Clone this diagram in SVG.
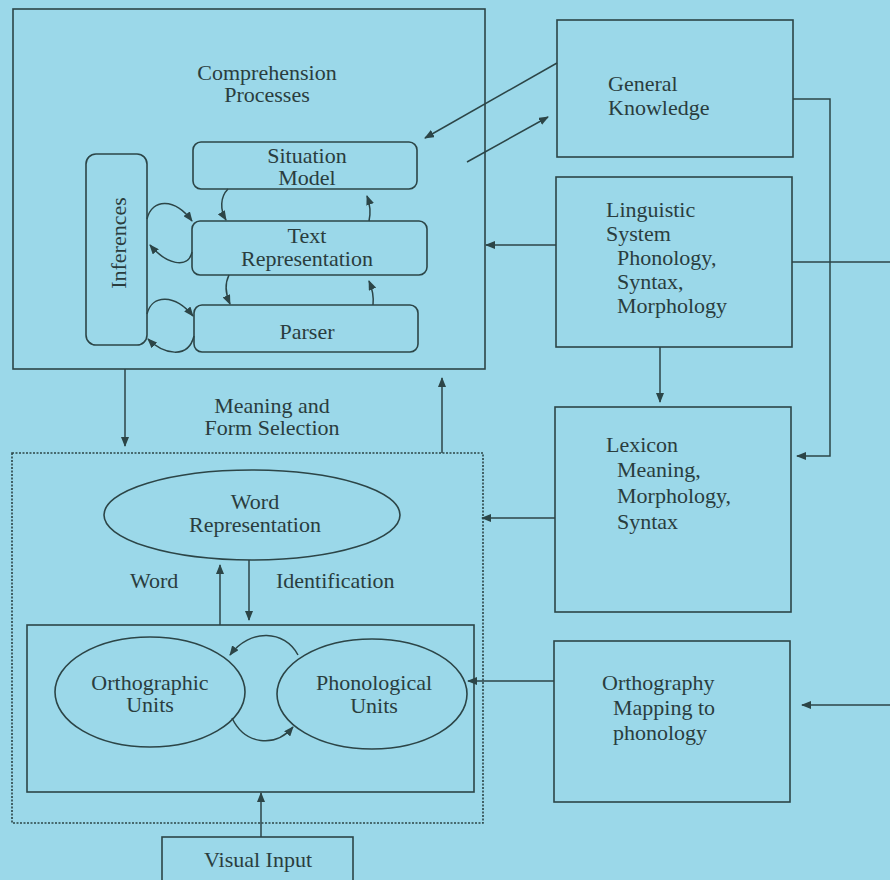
<svg xmlns="http://www.w3.org/2000/svg" width="890" height="880" viewBox="0 0 890 880">
<defs>
<marker id="ah" markerUnits="userSpaceOnUse" markerWidth="10" markerHeight="8" refX="9" refY="4" orient="auto">
<path d="M0,0 L10,4 L0,8 z" fill="#2c4547"/>
</marker>
</defs>
<style>
.box{fill:none;stroke:#2c4547;stroke-width:1.6}
.dot{fill:none;stroke:#2c4547;stroke-width:1.6;stroke-dasharray:2,1.5}
.ln{fill:none;stroke:#2c4547;stroke-width:1.5}
.arr{fill:none;stroke:#2c4547;stroke-width:1.5;marker-end:url(#ah)}
text{font-family:"Liberation Serif","Times New Roman",serif;font-size:22px;fill:#2a3d3e}
.c{text-anchor:middle}
</style>
<rect width="890" height="880" fill="#9bd8e9"/>

<g id="comprehension">
<rect class="box" x="13" y="9" width="472" height="360"/>
<text class="c" x="267" y="80">Comprehension</text>
<text class="c" x="267" y="102">Processes</text>
</g>
<g id="situation-model">
<rect class="box" x="193" y="142" width="224" height="47" rx="8"/>
<text class="c" x="307" y="163">Situation</text>
<text class="c" x="307" y="185">Model</text>
</g>
<g id="text-representation">
<rect class="box" x="192" y="221" width="235" height="54" rx="8"/>
<text class="c" x="307" y="243">Text</text>
<text class="c" x="307" y="266">Representation</text>
</g>
<g id="parser">
<rect class="box" x="194" y="305" width="224" height="47" rx="8"/>
<text class="c" x="307" y="339">Parser</text>
</g>
<g id="inferences">
<rect class="box" x="86" y="154" width="61" height="191" rx="10"/>
<text class="c" transform="translate(126,243) rotate(-90)">Inferences</text>
</g>

<g id="general-knowledge">
<rect class="box" x="557" y="20" width="236" height="137"/>
<text x="608" y="91">General</text>
<text x="608" y="115">Knowledge</text>
</g>
<g id="linguistic-system">
<rect class="box" x="556" y="177" width="236" height="170"/>
<text x="606" y="217">Linguistic</text>
<text x="606" y="241">System</text>
<text x="617" y="265">Phonology,</text>
<text x="617" y="289">Syntax,</text>
<text x="617" y="313">Morphology</text>
</g>
<g id="lexicon">
<rect class="box" x="555" y="407" width="236" height="205"/>
<text x="606" y="452">Lexicon</text>
<text x="617" y="477">Meaning,</text>
<text x="617" y="503">Morphology,</text>
<text x="617" y="529">Syntax</text>
</g>
<g id="orthography">
<rect class="box" x="554" y="641" width="236" height="161"/>
<text x="602" y="690">Orthography</text>
<text x="613" y="715">Mapping to</text>
<text x="613" y="740">phonology</text>
</g>

<g id="word-level">
<rect class="dot" x="12" y="453" width="471" height="370"/>
<rect class="box" x="27" y="625" width="447" height="167"/>
</g>
<g id="word-representation">
<ellipse class="box" cx="252" cy="515" rx="148" ry="45"/>
<text class="c" x="255" y="509">Word</text>
<text class="c" x="255" y="532">Representation</text>
</g>
<g id="orthographic-units">
<ellipse class="box" cx="150" cy="692" rx="95" ry="55"/>
<text class="c" x="150" y="690">Orthographic</text>
<text class="c" x="150" y="712">Units</text>
</g>
<g id="phonological-units">
<ellipse class="box" cx="372" cy="694" rx="95" ry="55"/>
<text class="c" x="374" y="690">Phonological</text>
<text class="c" x="374" y="713">Units</text>
</g>
<g id="visual-input">
<rect class="box" x="162" y="837" width="191" height="60"/>
<text class="c" x="258" y="867">Visual Input</text>
</g>

<g id="labels">
<text class="c" x="272" y="413">Meaning and</text>
<text class="c" x="272" y="435">Form Selection</text>
<text x="130" y="588">Word</text>
<text x="276" y="588">Identification</text>
</g>

<g id="connectors">
<path class="arr" d="M228,189 C220,197 220,210 226,220"/>
<path class="arr" d="M369,221 C371,212 370,204 367,196"/>
<path class="arr" d="M229,275 C224,285 226,295 230,304"/>
<path class="arr" d="M373,305 C374,296 372,288 369,281"/>
<path class="arr" d="M147,219 C152,198 175,198 192,221"/>
<path class="arr" d="M192,252 C188,270 166,264 150,245"/>
<path class="arr" d="M147,314 C152,294 175,294 193,316"/>
<path class="arr" d="M194,336 C188,360 163,354 148,339"/>
<path class="arr" d="M557,63 L425,138"/>
<path class="arr" d="M467,162 L548,117"/>
<path class="arr" d="M556,245 L486,245"/>
<path class="ln" d="M792,262 L890,262"/>
<path class="arr" d="M793,99 L830,99 L830,456 L797,456"/>
<path class="arr" d="M660,347 L660,402"/>
<path class="arr" d="M555,518 L482,518"/>
<path class="arr" d="M890,705 L802,705"/>
<path class="arr" d="M554,681 L468,681"/>
<path class="arr" d="M125,369 L125,446"/>
<path class="arr" d="M442,453 L442,378"/>
<path class="arr" d="M220,625 L220,565"/>
<path class="arr" d="M249,560 L249,620"/>
<path class="arr" d="M298,655 C285,630 250,628 230,655"/>
<path class="arr" d="M232,718 C245,745 275,748 293,727"/>
<path class="arr" d="M261,837 L261,793"/>
</g>
</svg>
